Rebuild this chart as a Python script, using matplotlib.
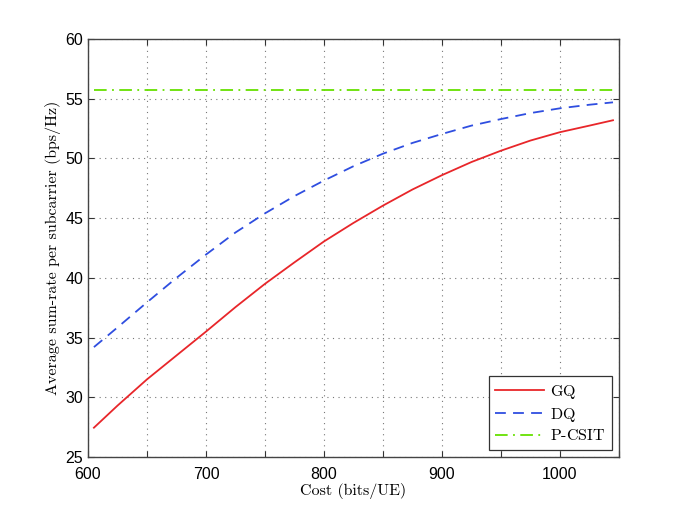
"""
Suma media por subportadora frente al coste de realimentacion (GQ, DQ, P-CSIT).
Salida: out.png
"""

import matplotlib
matplotlib.use("Agg")
import matplotlib.pyplot as plt

# datos
cost = [605, 625, 650, 675, 700, 725, 750, 775, 800, 825,
        850, 875, 900, 925, 950, 975, 1000, 1025, 1045]
gq = [27.45, 29.3, 31.5, 33.5, 35.5, 37.55, 39.5, 41.3, 43.05, 44.6,
      46.05, 47.4, 48.6, 49.7, 50.65, 51.5, 52.2, 52.75, 53.2]
dq = [34.2, 35.85, 37.95, 40.0, 41.95, 43.8, 45.4, 46.85, 48.15, 49.35,
      50.4, 51.3, 52.05, 52.75, 53.3, 53.8, 54.2, 54.5, 54.7]
pcsit_cost = [605, 1045]
pcsit = [55.7, 55.7]

labels = [r"$\mathrm{GQ}$", r"$\mathrm{DQ}$", r"$\mathrm{P}\text{-}\mathrm{CSIT}$"]

xticks = list(range(600, 1051, 50))
xtick_labels = [str(t) if t % 100 == 0 else "" for t in xticks]
yticks = list(range(25, 61, 5))

plt.rcParams["mathtext.fontset"] = "cm"
SERIF = "cmr10"

fig = plt.figure(figsize=(6.85, 5.14), dpi=100)
ax = fig.add_axes([0.1285, 0.111, 0.775, 0.813])

ax.plot(cost, gq, color="#e8262a", lw=1.3, label=labels[0])
ax.plot(cost, dq, color="#2f4ee0", lw=1.3, ls=(0, (6, 4)), label=labels[1])
ax.plot(pcsit_cost, pcsit, color="#66e000", lw=1.3, ls=(0, (7, 3, 1, 3)),
        label=labels[2])

ax.set_xlim(600, 1050)
ax.set_ylim(25, 60)
ax.set_xticks(xticks)
ax.set_xticklabels(xtick_labels)
ax.set_yticks(yticks)
ax.tick_params(direction="in", top=True, right=True, length=4,
               labelsize=11.5, color="#333333")
ax.tick_params(axis="x", pad=7)
for lab in ax.get_xticklabels() + ax.get_yticklabels():
    lab.set_family("Liberation Sans")
for s in ax.spines.values():
    s.set_color("#444444")
    s.set_linewidth(1.0)

ax.grid(True, ls=(0, (1, 4)), color="#777777", lw=0.8)

ax.set_xlabel("Cost (bits/UE)", fontsize=11.5, family=SERIF, labelpad=1)
ax.set_ylabel("Average sum-rate per subcarrier (bps/Hz)", fontsize=11.5,
              family=SERIF, labelpad=3)

leg = ax.legend(loc="lower right", fontsize=11.5,
                fancybox=False, framealpha=1, edgecolor="#333333",
                handlelength=3.1, handletextpad=0.35, borderaxespad=0.45,
                labelspacing=0.3, borderpad=0.4)
leg.get_frame().set_linewidth(0.9)

fig.savefig("out.png", dpi=100)
plt.close(fig)
